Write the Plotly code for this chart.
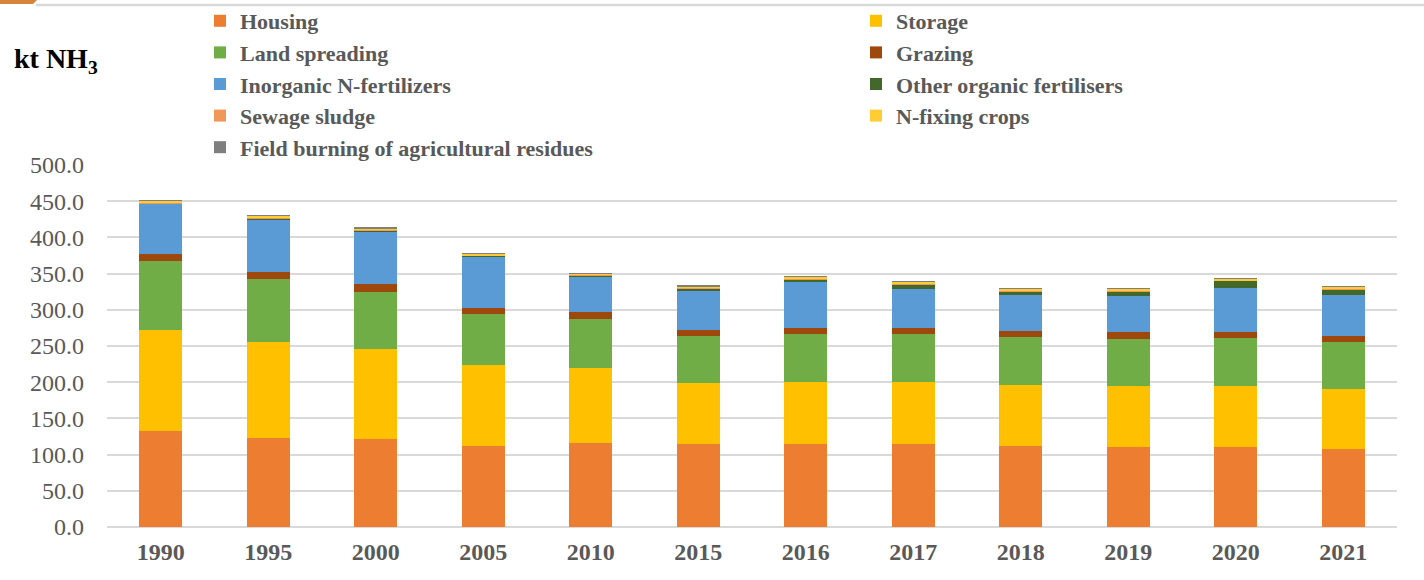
import plotly.graph_objects as go

# Agricultural NH3 emissions by source (kt NH3)
years = ["1990", "1995", "2000", "2005", "2010", "2015",
         "2016", "2017", "2018", "2019", "2020", "2021"]

housing = [132.6, 123.4, 121.6, 111.6, 116.5, 114.3, 115.2, 114.3, 112.0, 111.0, 110.2, 108.3]
storage = [139.2, 131.8, 124.0, 112.0, 102.9, 84.0, 84.9, 85.8, 84.4, 83.6, 84.4, 82.2]
land_spreading = [95.0, 86.8, 79.0, 70.2, 67.9, 66.2, 66.6, 66.6, 65.7, 65.7, 66.1, 65.7]
grazing = [9.7, 10.6, 11.0, 8.2, 9.3, 7.7, 8.3, 8.3, 8.7, 8.7, 8.7, 8.3]
inorganic_n = [69.8, 72.5, 73.0, 71.3, 48.2, 53.8, 63.3, 54.2, 49.6, 50.6, 61.2, 55.5]
other_organic = [1.0, 1.5, 1.3, 1.3, 2.8, 4.0, 3.5, 5.8, 5.5, 5.8, 9.5, 8.7]
sewage_sludge = [0.5, 0.5, 0.5, 0.7, 0.8, 0.8, 1.0, 0.9, 0.9, 0.9, 0.8, 0.9]
n_fixing = [2.5, 2.5, 2.5, 2.5, 2.0, 2.0, 2.7, 2.5, 2.3, 2.5, 2.2, 2.4]
field_burning = [0.3, 0.2, 0.2, 0.3, 0.3, 0.3, 0.3, 0.3, 0.5, 0.4, 0.3, 0.4]

# (name, values, colour, legend column)
series = [
    ("Housing", housing, "#ED7D31", "legend"),
    ("Storage", storage, "#FFC000", "legend2"),
    ("Land spreading", land_spreading, "#70AD47", "legend"),
    ("Grazing", grazing, "#9E480E", "legend2"),
    ("Inorganic N-fertilizers", inorganic_n, "#5B9BD5", "legend"),
    ("Other organic fertilisers", other_organic, "#43682B", "legend2"),
    ("Sewage sludge", sewage_sludge, "#F1975A", "legend"),
    ("N-fixing crops", n_fixing, "#FFCD33", "legend2"),
    ("Field burning of agricultural residues", field_burning, "#7F7F7F", "legend"),
]

SERIF = "Liberation Serif, Times New Roman, serif"
GREY_TEXT = "#595959"

fig = go.Figure()
for name, vals, color, leg in series:
    fig.add_trace(go.Bar(
        x=years, y=vals, name=name, legend=leg,
        marker=dict(color=color, line=dict(width=0)),
    ))

W, H = 1424, 580
ML, MR, MT, MB = 107, 27, 165, 53

legend_common = dict(
    orientation="v",
    xref="container", yref="container",
    y=1.0,
    xanchor="left", yanchor="top",
    traceorder="normal",
    font=dict(family=SERIF, size=22, color=GREY_TEXT, weight="bold"),
    bgcolor="rgba(0,0,0,0)",
    itemclick=False,
)

fig.update_layout(
    width=W, height=H,
    barmode="stack",
    bargap=0.6,
    plot_bgcolor="white",
    paper_bgcolor="white",
    margin=dict(l=ML, r=MR, t=MT, b=MB, pad=0, autoexpand=False),
    font=dict(family=SERIF, color=GREY_TEXT, size=24),
    legend=dict(legend_common, x=200 / W),
    legend2=dict(legend_common, x=856 / W),
    xaxis=dict(
        type="category",
        showgrid=False,
        showline=False,
        ticks="",
        tickfont=dict(family=SERIF, size=24, color=GREY_TEXT, weight="bold"),
        ticklabelstandoff=8,
    ),
    yaxis=dict(
        range=[0, 500],
        dtick=50,
        tickformat=".1f",
        showgrid=True,
        gridcolor="#D9D9D9",
        gridwidth=1.5,
        zeroline=True,
        zerolinecolor="#D9D9D9",
        zerolinewidth=1.5,
        showline=False,
        ticks="",
        tickfont=dict(family=SERIF, size=24, color=GREY_TEXT),
        ticklabelstandoff=22,
    ),
    annotations=[
        dict(
            text="kt NH<sub>3</sub>",
            xref="paper", yref="paper",
            x=-(ML - 12) / (W - ML - MR), y=1 + (MT - 60) / (H - MT - MB),
            xanchor="left", yanchor="middle",
            showarrow=False,
            font=dict(family=SERIF, size=28, color="black", weight="bold"),
        )
    ],
)

# Page header rule with an orange tab at the left
pw = W - ML - MR
ph = H - MT - MB
def px_x(v):
    return (v - ML) / pw
def px_y(v):
    return (H - MB - v) / ph

fig.add_shape(type="line", xref="paper", yref="paper",
              x0=px_x(36), x1=px_x(W), y0=px_y(5), y1=px_y(5),
              line=dict(color="#D9D9D9", width=2.5))
fig.add_shape(type="path", xref="paper", yref="paper",
              path=(f"M {px_x(0)},{px_y(0)} L {px_x(37)},{px_y(0)} "
                    f"L {px_x(33)},{px_y(4)} L {px_x(0)},{px_y(4)} Z"),
              fillcolor="#D4843C", line=dict(width=0))

fig.write_html("out.html")
